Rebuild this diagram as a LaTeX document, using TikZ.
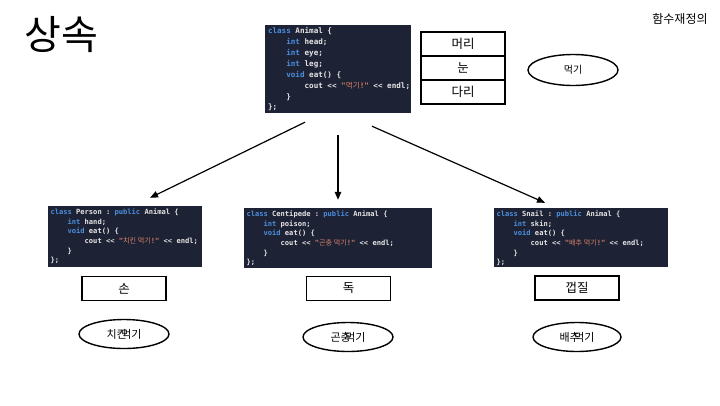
\documentclass[tikz,border=0pt]{standalone}
\usepackage{fontspec}
\setmainfont{Noto Sans CJK KR}
\setmonofont{DejaVu Sans Mono}
\newfontfamily\krfont{Noto Sans CJK KR}
\usetikzlibrary{arrows.meta,calc,shapes.geometric}
\definecolor{codebg}{HTML}{1E2235}
\definecolor{kwc}{HTML}{4A8FE0}
\definecolor{txc}{HTML}{E6E6E6}
\definecolor{strc}{HTML}{D9826A}
\newcommand\kw[1]{\textcolor{kwc}{#1}}
\newcommand\cstr[1]{\textcolor{strc}{#1}}
\newcommand\ii{\phantom{0000}}
\begin{document}
\begin{tikzpicture}[x=1pt,y=-1pt,
  codebox/.style={fill=codebg, draw=none, inner sep=0},
  code/.style={anchor=north west, inner sep=0, align=left, text=txc},
  bigcode/.style={code, font=\ttfamily\bfseries\fontsize{7.6}{10.9}\selectfont},
  smallcode/.style={code, font=\ttfamily\bfseries\fontsize{7.1}{9.6}\selectfont},
  lbox/.style={draw, line width=1.4pt, minimum width=84, minimum height=24, inner sep=0, font=\fontsize{12.5}{14}\selectfont},
  oval/.style={draw, ellipse, line width=1.4pt, inner sep=0},
  arr/.style={-{Triangle[length=8pt,width=6.5pt]}, line width=1.2pt}
]
\useasboundingbox (0,0) rectangle (720,405);
\fill[white] (0,0) rectangle (720,405);

\node[inner sep=0, font=\fontsize{40}{44}\selectfont] (title) at (61,35) {상속};
\node[inner sep=0, font=\fontsize{12}{14}\selectfont] (over) at (680,19) {함수재정의};

% top class
\node[codebox, minimum width=146, minimum height=88] (animal) at (338,69) {};
\node[bigcode] (animalcode) at ($(animal.north west)+(3,2.5)$) {%
\kw{class} Animal \{\\
\ii\kw{int} head;\\
\ii\kw{int} eye;\\
\ii\kw{int} leg;\\
\ii\kw{void} eat() \{\\
\ii\ii cout << \cstr{"{\krfont\mdseries 먹기}!"} << endl;\\
\ii\}\\
\};};

\node[lbox] (head) at (463,44) {머리};
\node[lbox] (eye) at (463,68) {눈};
\node[lbox] (leg) at (463,92) {다리};
\node[oval, minimum width=90, minimum height=31, font=\fontsize{10}{12}\selectfont] (eat) at (573,70) {먹기};

% children
\node[codebox, minimum width=154, minimum height=61] (person) at (125,236.5) {};
\node[smallcode] (personcode) at ($(person.north west)+(2.5,3)$) {%
\kw{class} Person : \kw{public} Animal \{\\
\ii\kw{int} hand;\\
\ii\kw{void} eat() \{\\
\ii\ii cout << \cstr{"{\krfont\mdseries 치킨~먹기}!"} << endl;\\
\ii\}\\
\};};

\node[codebox, minimum width=188, minimum height=60] (centipede) at (338,238) {};
\node[smallcode] (centcode) at ($(centipede.north west)+(2.5,3)$) {%
\kw{class} Centipede : \kw{public} Animal \{\\
\ii\kw{int} poison;\\
\ii\kw{void} eat() \{\\
\ii\ii cout << \cstr{"{\krfont\mdseries 곤충~먹기}!"} << endl;\\
\ii\}\\
\};};

\node[codebox, minimum width=174, minimum height=59] (snail) at (581,237.5) {};
\node[smallcode] (snailcode) at ($(snail.north west)+(2.5,3)$) {%
\kw{class} Snail : \kw{public} Animal \{\\
\ii\kw{int} skin;\\
\ii\kw{void} eat() \{\\
\ii\ii cout << \cstr{"{\krfont\mdseries 배추~먹기}!"} << endl;\\
\ii\}\\
\};};

\node[lbox] (hand) at (124,288.5) {손};
\node[lbox] (poison) at (348.5,288.5) {독};
\node[lbox] (skin) at (577,288) {껍질};

\node[oval, minimum width=90, minimum height=29, font=\fontsize{11}{13}\selectfont] (eat1) at (124,334) {치킨\hspace{-0.5em}먹기};
\node[oval, minimum width=90, minimum height=29, font=\fontsize{11}{13}\selectfont] (eat2) at (348,337) {곤충\hspace{-0.5em}먹기};
\node[oval, minimum width=88, minimum height=29, font=\fontsize{11}{13}\selectfont] (eat3) at (577,337) {배추\hspace{-0.5em}먹기};

% arrows
\draw[arr] ($(animal.south)+(-33,9)$) -- ($(person.north)+(25,-8)$);
\draw[arr] ($(animal.south)+(0,22)$) -- ($(centipede.north)+(0,-8)$);
\draw[arr] ($(animal.south)+(34,13)$) -- ($(snail.north)+(-36,-5)$);
\end{tikzpicture}
\end{document}
